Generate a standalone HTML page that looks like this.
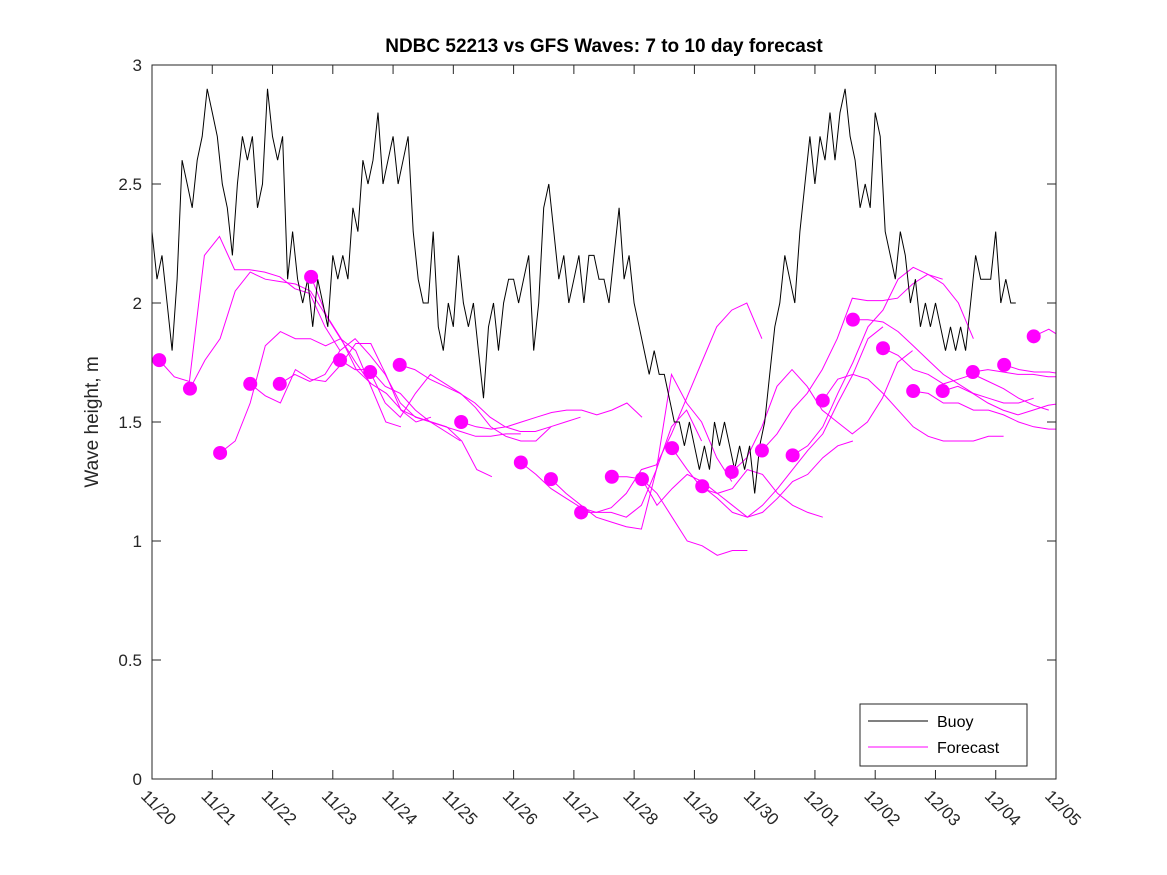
<!DOCTYPE html>
<html><head><meta charset="utf-8"><style>
body{margin:0;background:#fff}
svg{display:block;font-family:"Liberation Sans","DejaVu Sans",sans-serif}
</style></head><body>
<svg id="chart" width="1167" height="875" xmlns="http://www.w3.org/2000/svg">
<defs><clipPath id="clip"><rect x="152" y="65" width="904" height="714"/></clipPath></defs>
<rect width="1167" height="875" fill="#fff"/>
<text x="604" y="52" text-anchor="middle" font-size="19" font-weight="bold" fill="#000">NDBC 52213 vs GFS Waves: 7 to 10 day forecast</text>
<text transform="translate(98,422) rotate(-90)" text-anchor="middle" font-size="19" fill="#262626">Wave height, m</text>
<rect x="152" y="65" width="904" height="714" fill="#fff"/>
<g id="plot" clip-path="url(#clip)"></g>
<rect x="152" y="65" width="904" height="714" fill="none" stroke="#262626" stroke-width="1"/>
<g id="axes"></g>
<g>
<rect x="860" y="704" width="167" height="62" fill="#fff" stroke="#262626" stroke-width="1"/>
<line x1="868" y1="721" x2="928" y2="721" stroke="#000" stroke-width="1"/>
<text x="937" y="727" font-size="16" fill="#000">Buoy</text>
<line x1="868" y1="747" x2="928" y2="747" stroke="#f0f" stroke-width="1"/>
<text x="937" y="753" font-size="16" fill="#000">Forecast</text>
</g>
</svg>
<script>
const xTickLabels=["11/20","11/21","11/22","11/23","11/24","11/25","11/26","11/27","11/28","11/29","11/30","12/01","12/02","12/03","12/04","12/05"];
const yTicks=[0,0.5,1,1.5,2,2.5,3];
const buoyStep=1/12;
const buoyValues=[
2.3,2.1,2.2,2.0,1.8,2.1,2.6,2.5,2.4,2.6,2.7,2.9,
2.8,2.7,2.5,2.4,2.2,2.5,2.7,2.6,2.7,2.4,2.5,2.9,
2.7,2.6,2.7,2.1,2.3,2.1,2.0,2.1,1.9,2.1,2.0,1.9,
2.2,2.1,2.2,2.1,2.4,2.3,2.6,2.5,2.6,2.8,2.5,2.6,
2.7,2.5,2.6,2.7,2.3,2.1,2.0,2.0,2.3,1.9,1.8,2.0,
1.9,2.2,2.0,1.9,2.0,1.8,1.6,1.9,2.0,1.8,2.0,2.1,
2.1,2.0,2.1,2.2,1.8,2.0,2.4,2.5,2.3,2.1,2.2,2.0,
2.1,2.2,2.0,2.2,2.2,2.1,2.1,2.0,2.2,2.4,2.1,2.2,
2.0,1.9,1.8,1.7,1.8,1.7,1.7,1.6,1.5,1.5,1.4,1.5,
1.4,1.3,1.4,1.3,1.5,1.4,1.5,1.4,1.3,1.4,1.3,1.4,
1.2,1.4,1.5,1.7,1.9,2.0,2.2,2.1,2.0,2.3,2.5,2.7,
2.5,2.7,2.6,2.8,2.6,2.8,2.9,2.7,2.6,2.4,2.5,2.4,
2.8,2.7,2.3,2.2,2.1,2.3,2.2,2.0,2.1,1.9,2.0,1.9,
2.0,1.9,1.8,1.9,1.8,1.9,1.8,2.0,2.2,2.1,2.1,2.1,
2.3,2.0,2.1,2.0,2.0];
const fcStarts=[0.12,0.63,1.13,1.63,2.12,2.64,3.12,3.62,4.11,5.13,6.12,6.62,7.12,7.63,8.13,8.63,9.13,9.62,10.12,10.63,11.13,11.63,12.13,12.63,13.12,13.62,14.14,14.63];
const fcStep=0.25;
const fcValues=[
[1.76,1.69,1.67,2.2,2.28,2.14,2.14,2.13,2.11,2.06,2.04,1.9,1.8],
[1.64,1.76,1.85,2.05,2.13,2.10,2.09,2.08,2.05,1.95,1.85,1.75,1.66],
[1.37,1.42,1.58,1.82,1.88,1.85,1.85,1.82,1.85,1.80,1.65,1.50,1.48],
[1.66,1.61,1.58,1.72,1.68,1.67,1.74,1.83,1.83,1.70,1.55,1.50,1.52],
[1.66,1.70,1.67,1.70,1.80,1.85,1.78,1.70,1.58,1.52,1.50,1.46,1.42],
[2.11,1.95,1.85,1.72,1.66,1.62,1.55,1.52,1.50,1.48,1.42,1.30,1.27],
[1.76,1.72,1.72,1.65,1.62,1.55,1.50,1.48,1.46,1.44,1.44,1.45,1.45],
[1.71,1.58,1.52,1.62,1.70,1.66,1.62,1.56,1.48,1.44,1.42,1.42,1.48],
[1.74,1.72,1.68,1.65,1.62,1.58,1.52,1.48,1.46,1.46,1.48,1.50,1.52],
[1.50,1.48,1.47,1.48,1.50,1.52,1.54,1.55,1.55,1.53,1.55,1.58,1.52],
[1.33,1.28,1.22,1.18,1.14,1.12,1.12,1.10,1.15,1.30,1.48,1.55,1.42],
[1.26,1.20,1.15,1.10,1.08,1.06,1.05,1.30,1.70,1.58,1.50,1.35,1.25],
[1.12,1.12,1.14,1.20,1.30,1.32,1.45,1.60,1.75,1.90,1.97,2.00,1.85],
[1.27,1.27,1.26,1.20,1.10,1.00,0.98,0.94,0.96,0.96],
[1.26,1.15,1.22,1.28,1.25,1.20,1.22,1.30,1.28,1.20,1.15,1.12,1.10],
[1.39,1.30,1.22,1.20,1.15,1.10,1.12,1.18,1.25,1.28,1.35,1.40,1.42],
[1.23,1.18,1.12,1.10,1.15,1.22,1.30,1.38,1.45,1.58,1.70,1.85,1.90],
[1.29,1.35,1.48,1.65,1.72,1.65,1.55,1.50,1.45,1.50,1.60,1.75,1.80],
[1.38,1.45,1.55,1.62,1.72,1.85,2.02,2.01,2.01,2.02,2.08,2.12,2.10],
[1.36,1.40,1.48,1.62,1.75,1.90,1.97,2.10,2.15,2.12,2.08,2.00,1.85],
[1.59,1.68,1.70,1.68,1.62,1.55,1.48,1.44,1.42,1.42,1.42,1.44,1.44],
[1.93,1.93,1.92,1.88,1.82,1.76,1.70,1.66,1.62,1.60,1.58,1.58,1.60],
[1.81,1.78,1.72,1.70,1.66,1.68,1.70,1.67,1.64,1.60,1.57,1.55],
[1.63,1.62,1.58,1.58,1.55,1.55,1.53,1.50,1.48,1.47,1.47,1.44,1.40],
[1.63,1.65,1.62,1.58,1.55,1.53,1.55,1.57,1.58,1.56,1.53,1.50],
[1.71,1.72,1.71,1.70,1.70,1.69,1.69,1.70,1.70,1.66,1.62],
[1.74,1.72,1.71,1.71,1.70,1.67],
[1.86,1.89,1.85]
];
const X0=152,X1=1056,Y0=779,Y1=65,DAYS=15,YMAX=3;
function xs(d){return X0+(X1-X0)*d/DAYS;}
function ys(v){return Y0-(Y0-Y1)*v/YMAX;}
const NS="http://www.w3.org/2000/svg";
const plot=document.getElementById('plot'),axes=document.getElementById('axes');
function mk(tag,attrs,parent){const e=document.createElementNS(NS,tag);for(const k in attrs)e.setAttribute(k,attrs[k]);parent.appendChild(e);return e;}
fcValues.forEach((s,i)=>{
  const pts=s.map((v,j)=>xs(fcStarts[i]+j*fcStep).toFixed(1)+','+ys(v).toFixed(1)).join(' ');
  const pl=mk('polyline',{points:pts,fill:'none',stroke:'#f0f','stroke-width':1},plot);
  
  
});
const bp=buoyValues.map((v,j)=>xs(j*buoyStep).toFixed(1)+','+ys(v).toFixed(1)).join(' ');
const bl=mk('polyline',{points:bp,fill:'none',stroke:'#000','stroke-width':1},plot);


fcValues.forEach((s,i)=>{
  const c=mk('circle',{cx:xs(fcStarts[i]),cy:ys(s[0]),r:7,fill:'#f0f'},plot);
  
  
});
yTicks.forEach(t=>{
  const y=ys(t);
  mk('line',{x1:X0,y1:y,x2:X0+9,y2:y,stroke:'#262626'},axes);
  mk('line',{x1:X1,y1:y,x2:X1-9,y2:y,stroke:'#262626'},axes);
  const tx=mk('text',{x:X0-10,y:y+6,'text-anchor':'end','font-size':17,fill:'#262626'},axes);
  tx.textContent=String(t);
  
  
});
xTickLabels.forEach((l,i)=>{
  const x=xs(i);
  mk('line',{x1:x,y1:Y0,x2:x,y2:Y0-9,stroke:'#262626'},axes);
  mk('line',{x1:x,y1:Y1,x2:x,y2:Y1+9,stroke:'#262626'},axes);
  const tx=mk('text',{transform:`translate(${x-12},${Y0+18}) rotate(45)`,'font-size':17,fill:'#262626'},axes);
  tx.textContent=l;
  
  
});
</script>
</body></html>
